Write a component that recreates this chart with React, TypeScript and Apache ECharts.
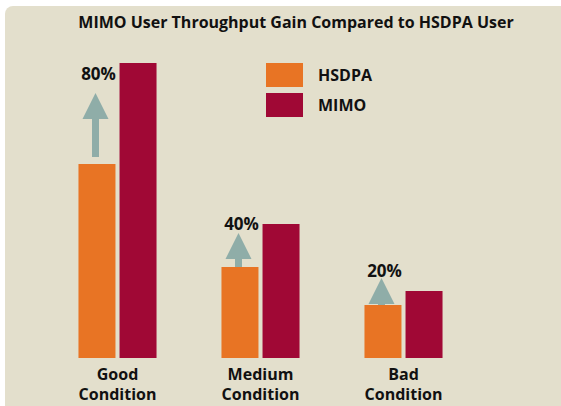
import React, { useEffect, useRef } from "react";
import * as echarts from "echarts";

const categories = ["Good\nCondition", "Medium\nCondition", "Bad\nCondition"];
const hsdpa = [3.88, 1.82, 1.06];
const mimo = [5.9, 2.68, 1.34];
const gainLabels = ["80%", "40%", "20%"];
const arrowFrom = [4.02, 1.82, 1.06];
const arrowTip = [5.3, 2.5, 1.6];
const gainLabelAt = [5.7, 2.7, 1.75];

const FONT = "'Open Sans', 'Noto Sans', sans-serif";

export default function App() {
  const ref = useRef<HTMLDivElement>(null);
  useEffect(() => {
    if (!ref.current) return;
    const chart = echarts.init(ref.current, null, { renderer: "svg" });
    const arrowData = categories.map((_, i) => [i, arrowFrom[i], arrowTip[i], gainLabelAt[i], gainLabels[i]]);
    chart.setOption({
      animation: false,
      backgroundColor: "#ffffff",
      graphic: [
        {
          type: "rect",
          z: -10,
          silent: true,
          shape: { x: 5, y: 6, width: 556, height: 400, r: [8, 0, 0, 0] },
          style: { fill: "#e3dfcc" },
        },
        {
          type: "text",
          x: 296,
          y: 22,
          style: {
            text: "MIMO User Throughput Gain Compared to HSDPA User",
            align: "center",
            verticalAlign: "middle",
            font: `bold 16px ${FONT}`,
            fill: "#111111",
          },
        },
      ],
      legend: {
        orient: "vertical",
        left: 266,
        top: 63,
        padding: 0,
        itemWidth: 37,
        itemHeight: 24,
        itemGap: 6,
        icon: "rect",
        selectedMode: false,
        data: ["HSDPA", "MIMO"],
        textStyle: {
          fontFamily: FONT,
          fontWeight: "bold",
          fontSize: 16,
          color: "#111111",
          padding: [0, 0, 0, 10],
        },
      },
      grid: { left: 46, width: 429, top: 58, bottom: 48 },
      xAxis: {
        type: "category",
        data: categories,
        axisLine: { show: false },
        axisTick: { show: false },
        axisLabel: {
          margin: 6,
          fontFamily: FONT,
          fontWeight: "bold",
          fontSize: 16,
          lineHeight: 20,
          color: "#111111",
        },
      },
      yAxis: { type: "value", min: 0, max: 6, show: false, splitLine: { show: false } },
      series: [
        {
          name: "HSDPA",
          type: "bar",
          data: hsdpa,
          barWidth: 37,
          barGap: "11%",
          itemStyle: { color: "#e87424" },
        },
        {
          name: "MIMO",
          type: "bar",
          data: mimo,
          barWidth: 37,
          barGap: "11%",
          itemStyle: { color: "#a00835" },
        },
        {
          type: "custom",
          data: arrowData,
          z: 5,
          renderItem: (params: any, api: any) => {
            const idx = api.value(0);
            const base = api.coord([idx, api.value(1)]);
            const tip = api.coord([idx, api.value(2)]);
            const lab = api.coord([idx, api.value(3)]);
            const cx = base[0] - 22;
            const headH = 26;
            const headW = 13;
            const shaftW = 3.5;
            const by = base[1];
            const ty = tip[1];
            const hy = ty + headH;
            const pts = [
              [cx, ty],
              [cx + headW, hy],
              [cx + shaftW, hy],
              [cx + shaftW, by],
              [cx - shaftW, by],
              [cx - shaftW, hy],
              [cx - headW, hy],
            ];
            return {
              type: "group",
              children: [
                { type: "polygon", shape: { points: pts }, style: { fill: "#8fada8" } },
                {
                  type: "text",
                  x: cx + 3,
                  y: lab[1],
                  style: {
                    text: gainLabels[params.dataIndex],
                    align: "center",
                    verticalAlign: "middle",
                    font: `bold 17px ${FONT}`,
                    fill: "#111111",
                  },
                },
              ],
            };
          },
        },
      ],
    });
    return () => chart.dispose();
  }, []);
  return (
    <div
      ref={ref}
      style={{ position: "absolute", left: 0, top: 0, width: 561, height: 406 }}
    />
  );
}
